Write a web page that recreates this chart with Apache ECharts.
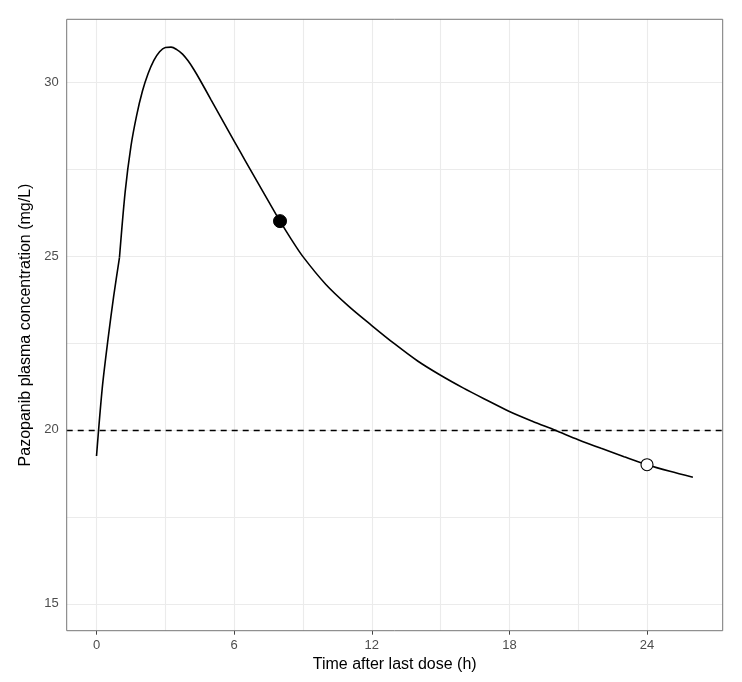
<!DOCTYPE html>
<html>
<head>
<meta charset="utf-8">
<script src="https://cdn.jsdelivr.net/npm/echarts@6/dist/echarts.min.js"></script>
<style>
html,body{margin:0;padding:0;background:#fff;}
#chart{width:742px;height:682px;}
</style>
</head>
<body>
<div id="chart"></div>
<script>
// Data: absorption phase (0-1 h) and post-absorption phase (1-26 h)
const timeAbs = [0, 0.25, 0.5, 0.75, 1];
const concAbs = [19.25, 21.2, 22.6, 23.85, 24.95];
const timeElim = [1, 1.25, 1.5, 1.75, 2, 2.25, 2.5, 2.75, 3, 3.25, 3.5, 3.75, 4, 4.25, 4.5, 5, 5.5, 6, 6.5, 7, 7.5, 8, 8.5, 9, 10, 11, 12, 13, 14, 15, 16, 17, 18, 19, 20, 21, 22, 23, 24, 25, 26];
const concElim = [24.95, 26.85, 28.15, 29.04, 29.73, 30.24, 30.62, 30.87, 30.99, 31.0, 30.93, 30.8, 30.6, 30.35, 30.07, 29.48, 28.89, 28.3, 27.72, 27.14, 26.57, 26.0, 25.47, 24.98, 24.18, 23.55, 23.0, 22.47, 21.98, 21.57, 21.2, 20.86, 20.53, 20.25, 19.99, 19.72, 19.47, 19.23, 19.0, 18.81, 18.64];
const filledPoint = [8, 26];
const openPoint = [24, 19];
const threshold = 20;
const xTicks = [0, 6, 12, 18, 24];
const yTicks = [15, 20, 25, 30];
const xGrid = [0, 3, 6, 9, 12, 15, 18, 21, 24];
const yGrid = [15, 17.5, 20, 22.5, 25, 27.5, 30];
const xRange = [-1.3, 27.3];
const yRange = [14.23, 31.8];

const curveAbs = timeAbs.map((t, i) => [t, concAbs[i]]);
const curveElim = timeElim.map((t, i) => [t, concElim[i]]);
const gridLineStyle = {color: '#ebebeb', width: 1.1, type: 'solid'};
const gridMarks = xGrid.map(v => ({xAxis: v})).concat(yGrid.map(v => ({yAxis: v})));
const curveStyle = {color: '#000', width: 1.6};

const chart = echarts.init(document.getElementById('chart'), null, {renderer: 'canvas'});
chart.setOption({
  animation: false,
  backgroundColor: '#fff',
  grid: {left: 66.7, right: 19.3, top: 19.3, bottom: 51.3, show: true, borderColor: '#777', borderWidth: 1, backgroundColor: 'transparent', z: 10},
  xAxis: {
    type: 'value', min: xRange[0], max: xRange[1],
    name: 'Time after last dose (h)', nameLocation: 'middle', nameGap: 26,
    nameTextStyle: {fontFamily: 'Liberation Sans', fontSize: 16, color: '#000'},
    axisLine: {show: false},
    axisTick: {show: true, length: 4, lineStyle: {color: '#444', width: 1}, customValues: xTicks},
    axisLabel: {fontFamily: 'Liberation Sans', fontSize: 13, color: '#4d4d4d', margin: 8, customValues: xTicks},
    splitLine: {show: false}
  },
  yAxis: {
    type: 'value', min: yRange[0], max: yRange[1],
    name: 'Pazopanib plasma concentration (mg/L)', nameLocation: 'middle', nameGap: 31,
    nameTextStyle: {fontFamily: 'Liberation Sans', fontSize: 16, color: '#000'},
    axisLine: {show: false},
    axisTick: {show: true, length: 4, lineStyle: {color: '#444', width: 1}, customValues: yTicks},
    axisLabel: {fontFamily: 'Liberation Sans', fontSize: 13, color: '#4d4d4d', margin: 8, customValues: yTicks},
    splitLine: {show: false}
  },
  series: [
    {
      type: 'line', data: [], z: 1, silent: true,
      markLine: {z: 1, silent: true, symbol: 'none', label: {show: false}, emphasis: {disabled: true}, lineStyle: gridLineStyle, data: gridMarks, animation: false}
    },
    {
      type: 'line', data: [], z: 2, silent: true,
      markLine: {z: 2, silent: true, symbol: 'none', label: {show: false}, emphasis: {disabled: true}, lineStyle: {color: '#000', width: 1.3, type: [6, 5]}, data: [{yAxis: threshold}], animation: false}
    },
    {
      type: 'line', data: curveAbs, z: 3, smooth: 0.3, showSymbol: false, symbol: 'none',
      lineStyle: curveStyle
    },
    {
      type: 'line', data: curveElim, z: 3, smooth: 0.3, showSymbol: false, symbol: 'none',
      lineStyle: curveStyle
    },
    {
      type: 'scatter', data: [filledPoint], z: 4, symbol: 'circle', symbolSize: 13,
      itemStyle: {color: '#000', borderColor: '#000', borderWidth: 1, opacity: 1}
    },
    {
      type: 'scatter', data: [openPoint], z: 4, symbol: 'circle', symbolSize: 12,
      itemStyle: {color: '#fff', borderColor: '#000', borderWidth: 1.1, opacity: 1}
    }
  ]
});
</script>
</body>
</html>
